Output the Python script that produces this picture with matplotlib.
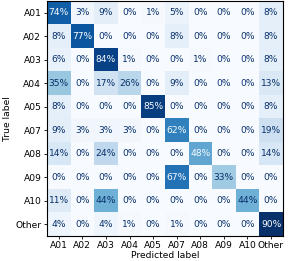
import numpy as np
import matplotlib
matplotlib.use("Agg")
import matplotlib.pyplot as plt

labels = ["A01", "A02", "A03", "A04", "A05", "A07", "A08", "A09", "A10", "Other"]
row_A01 = [74, 3, 9, 0, 1, 5, 0, 0, 0, 8]
row_A02 = [8, 77, 0, 0, 0, 8, 0, 0, 0, 8]
row_A03 = [6, 0, 84, 1, 0, 0, 1, 0, 0, 8]
row_A04 = [35, 0, 17, 26, 0, 9, 0, 0, 0, 13]
row_A05 = [8, 0, 0, 0, 85, 0, 0, 0, 0, 8]
row_A07 = [9, 3, 3, 3, 0, 62, 0, 0, 0, 19]
row_A08 = [14, 0, 24, 0, 0, 0, 48, 0, 0, 14]
row_A09 = [0, 0, 0, 0, 0, 67, 0, 33, 0, 0]
row_A10 = [11, 0, 44, 0, 0, 0, 0, 0, 44, 0]
row_Other = [4, 0, 4, 1, 0, 1, 0, 0, 0, 90]

cm = np.array([row_A01, row_A02, row_A03, row_A04, row_A05,
               row_A07, row_A08, row_A09, row_A10, row_Other], dtype=float)

fs = 6.6
fig = plt.figure(figsize=(2.99, 2.61), dpi=100)
ax = fig.add_axes([0.157, 0.096, 0.789, 0.9])
cmap = plt.get_cmap("Blues")
vmin, vmax = cm.min(), cm.max()
ax.imshow(cm, cmap=cmap, vmin=vmin, vmax=vmax, aspect="auto", interpolation="nearest")
thresh = (vmin + vmax) / 2
n = len(labels)
for i in range(n):
    for j in range(n):
        c = cmap(0.0) if cm[i, j] > thresh else cmap(1.0)
        ax.text(j, i, f"{int(cm[i, j])}%", ha="center", va="center", color=c, fontsize=fs)

ax.set_xticks(range(n))
ax.set_xticklabels(labels, fontsize=fs)
ax.set_yticks(range(n))
ax.set_yticklabels(labels, fontsize=fs)
ax.tick_params(length=2.5, width=0.6, pad=1.5)
ax.set_xlabel("Predicted label", fontsize=fs, labelpad=0.5)
ax.set_ylabel("True label", fontsize=fs, labelpad=2)
for s in ax.spines.values():
    s.set_linewidth(0.8)

fig.savefig("out.png", dpi=100)
